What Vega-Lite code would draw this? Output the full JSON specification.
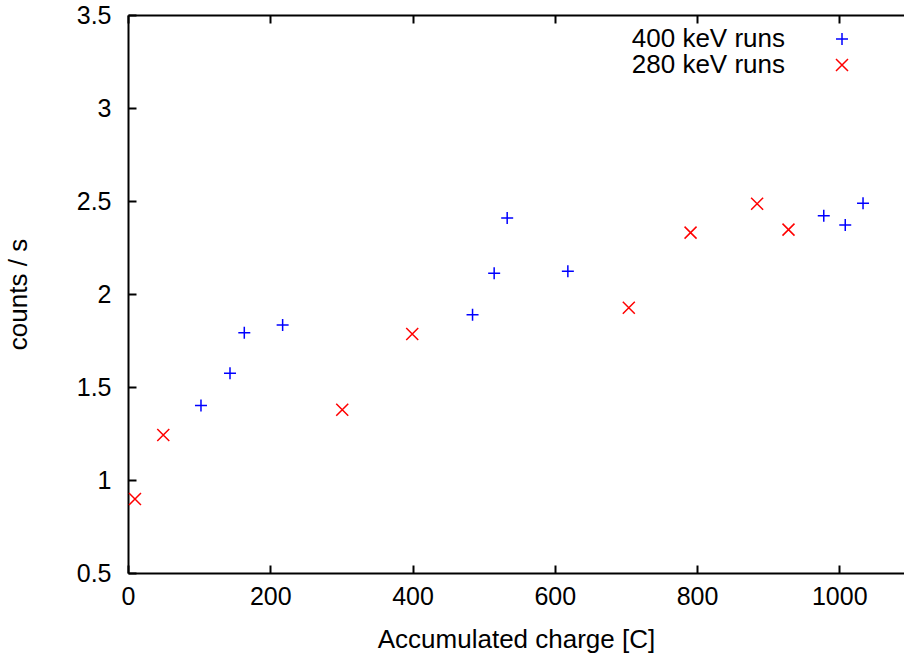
{
  "$schema": "https://vega.github.io/schema/vega-lite/v6.json",
  "width": 776,
  "height": 558,
  "autosize": "none",
  "padding": {"left": 128, "top": 15, "right": 0, "bottom": 84},
  "background": "white",
  "config": {
    "font": "Liberation Sans",
    "view": {"stroke": null},
    "axis": {
      "grid": false,
      "domainColor": "black",
      "domainWidth": 2,
      "tickColor": "black",
      "tickWidth": 2,
      "tickSize": -8,
      "labelFontSize": 25,
      "labelColor": "black",
      "labelFlush": false,
      "labelOverlap": false,
      "titleFontSize": 26,
      "titleFontWeight": "normal",
      "titleColor": "black"
    }
  },
  "data": {
    "values": [
      {"charge": 102.6, "rate": 1.400, "series": "400 keV runs"},
      {"charge": 143.4, "rate": 1.574, "series": "400 keV runs"},
      {"charge": 163.5, "rate": 1.792, "series": "400 keV runs"},
      {"charge": 217.4, "rate": 1.833, "series": "400 keV runs"},
      {"charge": 484.4, "rate": 1.889, "series": "400 keV runs"},
      {"charge": 514.8, "rate": 2.111, "series": "400 keV runs"},
      {"charge": 533.1, "rate": 2.409, "series": "400 keV runs"},
      {"charge": 618.4, "rate": 2.122, "series": "400 keV runs"},
      {"charge": 978.2, "rate": 2.421, "series": "400 keV runs"},
      {"charge": 1008.4, "rate": 2.371, "series": "400 keV runs"},
      {"charge": 1033.4, "rate": 2.488, "series": "400 keV runs"},
      {"charge": 9.8, "rate": 0.898, "series": "280 keV runs"},
      {"charge": 49.6, "rate": 1.242, "series": "280 keV runs"},
      {"charge": 301.2, "rate": 1.378, "series": "280 keV runs"},
      {"charge": 399.6, "rate": 1.785, "series": "280 keV runs"},
      {"charge": 704.1, "rate": 1.926, "series": "280 keV runs"},
      {"charge": 790.9, "rate": 2.330, "series": "280 keV runs"},
      {"charge": 884.5, "rate": 2.485, "series": "280 keV runs"},
      {"charge": 928.6, "rate": 2.346, "series": "280 keV runs"}
    ]
  },
  "layer": [
    {
      "mark": {"type": "point", "filled": false, "strokeWidth": 1.5, "size": 144, "opacity": 1},
      "encoding": {
        "x": {
          "field": "charge", "type": "quantitative",
          "scale": {"domain": [0, 1091], "nice": false, "zero": false},
          "axis": {
            "orient": "bottom",
            "values": [0, 200, 400, 600, 800, 1000],
            "format": "d",
            "title": "Accumulated charge [C]",
            "labelPadding": 19,
            "titlePadding": 17,
            "encode": {"ticks": {"update": {"y2": {"value": -8}}}}
          }
        },
        "y": {
          "field": "rate", "type": "quantitative",
          "scale": {"domain": [0.5, 3.5], "nice": false, "zero": false},
          "axis": {
            "orient": "left",
            "values": [0.5, 1, 1.5, 2, 2.5, 3, 3.5],
            "format": "~g",
            "title": "counts / s",
            "labelPadding": 25,
            "titlePadding": 45,
            "encode": {"ticks": {"update": {"x2": {"value": 8}}}}
          }
        },
        "color": {
          "field": "series", "type": "nominal",
          "scale": {"domain": ["400 keV runs", "280 keV runs"], "range": ["#0000ff", "#ff0000"]},
          "legend": {
            "title": null, "orient": "none", "legendX": 701, "legendY": 11,
            "labelFontSize": 26, "labelColor": "black", "labelAlign": "right", "labelOffset": -70,
            "symbolSize": 144, "symbolStrokeWidth": 1.5, "padding": 0, "rowPadding": 0
          }
        },
        "shape": {
          "field": "series", "type": "nominal",
          "scale": {"domain": ["400 keV runs", "280 keV runs"], "range": ["M-1,0L1,0M0,-1L0,1", "M-1,-1L1,1M-1,1L1,-1"]},
          "legend": {
            "title": null, "orient": "none", "legendX": 701, "legendY": 11,
            "labelFontSize": 26, "labelColor": "black", "labelAlign": "right", "labelOffset": -70,
            "symbolSize": 144, "symbolStrokeWidth": 1.5, "padding": 0, "rowPadding": 0
          }
        }
      }
    },
    {
      "mark": {"type": "point", "opacity": 0},
      "encoding": {
        "x": {
          "field": "charge", "type": "quantitative",
          "axis": {
            "orient": "top", "values": [0, 200, 400, 600, 800, 1000], "labels": false, "title": null,
            "encode": {"ticks": {"update": {"y2": {"value": 8}}}}
          }
        }
      }
    }
  ],
  "resolve": {"axis": {"x": "independent"}}
}
